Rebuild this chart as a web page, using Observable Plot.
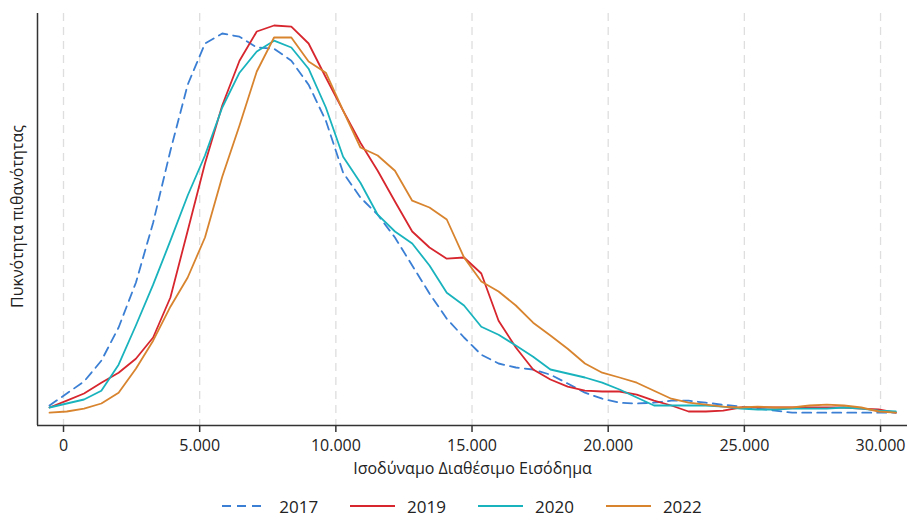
<!DOCTYPE html>
<html>
<head>
<meta charset="utf-8">
<script src="https://cdn.jsdelivr.net/npm/d3@7"></script>
<script src="https://cdn.jsdelivr.net/npm/@observablehq/plot@0.6"></script>
<style>
  html, body { margin: 0; padding: 0; background: #fff; }
  body { width: 908px; height: 522px; overflow: hidden; font-family: "Open Sans", sans-serif; }
  #legend { display: flex; justify-content: center; align-items: center; height: 32px; margin-left: 16px; font-size: 17px; color: #222; }
  .item { display: flex; align-items: center; margin: 0 16px; }
  .item svg { margin-right: 12px; }
</style>
</head>
<body>
<div id="chart"></div>
<div id="legend"></div>
<script>
// Grid of income values where the densities were evaluated
const incomes = [-514, 120, 754, 1389, 2023, 2657, 3291, 3925, 4560, 5194, 5828, 6462, 7096, 7731, 8365, 8999, 9633, 10267, 10902, 11536, 12170, 12804, 13438, 14073, 14707, 15341, 15975, 16609, 17244, 17878, 18512, 19146, 19780, 20415, 21049, 21683, 22317, 22951, 23586, 24220, 24854, 25488, 26122, 26757, 27391, 28025, 28659, 29293, 29928, 30562];

// Density (×1e-5) per year
const d2017 = [0.50, 0.80, 1.10, 1.62, 2.45, 3.57, 5.07, 6.87, 8.52, 9.55, 9.80, 9.72, 9.45, 9.42, 9.12, 8.52, 7.62, 6.32, 5.70, 5.27, 4.70, 4.00, 3.30, 2.67, 2.20, 1.77, 1.55, 1.45, 1.40, 1.27, 1.05, 0.82, 0.67, 0.57, 0.55, 0.57, 0.62, 0.62, 0.57, 0.52, 0.47, 0.42, 0.37, 0.32, 0.32, 0.32, 0.32, 0.32, 0.32, 0.32];
const d2019 = [0.45, 0.62, 0.80, 1.07, 1.32, 1.67, 2.20, 3.20, 4.87, 6.55, 8.00, 9.12, 9.85, 10.00, 9.97, 9.55, 8.70, 7.87, 7.07, 6.37, 5.60, 4.85, 4.45, 4.17, 4.20, 3.80, 2.62, 1.95, 1.40, 1.15, 0.97, 0.87, 0.85, 0.85, 0.77, 0.62, 0.50, 0.35, 0.35, 0.37, 0.45, 0.45, 0.45, 0.45, 0.45, 0.45, 0.45, 0.42, 0.40, 0.32];
const d2020 = [0.45, 0.55, 0.65, 0.87, 1.52, 2.50, 3.52, 4.62, 5.75, 6.75, 7.95, 8.82, 9.35, 9.62, 9.45, 8.92, 7.95, 6.72, 6.07, 5.27, 4.85, 4.55, 4.00, 3.32, 3.00, 2.47, 2.27, 2.00, 1.72, 1.40, 1.30, 1.20, 1.07, 0.90, 0.70, 0.50, 0.50, 0.50, 0.50, 0.47, 0.42, 0.40, 0.40, 0.42, 0.42, 0.42, 0.45, 0.42, 0.37, 0.35];
const d2022 = [0.32, 0.35, 0.42, 0.55, 0.82, 1.42, 2.12, 2.97, 3.70, 4.70, 6.22, 7.50, 8.85, 9.70, 9.70, 9.10, 8.82, 7.87, 6.95, 6.75, 6.37, 5.62, 5.45, 5.15, 4.20, 3.60, 3.35, 3.00, 2.57, 2.25, 1.92, 1.55, 1.32, 1.20, 1.07, 0.87, 0.67, 0.57, 0.52, 0.47, 0.45, 0.47, 0.45, 0.45, 0.50, 0.52, 0.50, 0.45, 0.35, 0.32];

const years = ["2017", "2019", "2020", "2022"];
const colors = ["#3b7fd4", "#d7262e", "#19b3bd", "#d8842f"];
const dashes = ["9,6", null, null, null];
const xTicks = [0, 5000, 10000, 15000, 20000, 25000, 30000];
const xLabel = "Ισοδύναμο Διαθέσιμο Εισόδημα";
const yLabel = "Πυκνότητα πιθανότητας";

const seriesValues = [d2017, d2019, d2020, d2022];
const rows = [];
years.forEach((yr, k) => seriesValues[k].forEach((v, i) => rows.push({year: yr, income: incomes[i], density: v})));

const fmt = d => d3.format(",")(d).replace(/,/g, ".");

const lineMarks = years.map((yr, k) => Plot.line(rows.filter(r => r.year === yr), {
  x: "income", y: "density", stroke: colors[k], strokeWidth: 1.8,
  strokeDasharray: dashes[k] || undefined, curve: "linear"
}));

const chart = Plot.plot({
  width: 908,
  height: 490,
  marginLeft: 37,
  marginRight: 1,
  marginTop: 13,
  marginBottom: 65,
  style: {fontFamily: "Open Sans, sans-serif", fontSize: "16px", color: "#222", background: "#fff"},
  x: {domain: [-955, 30990], label: null},
  y: {domain: [0, 10.3], axis: null},
  marks: [
    Plot.ruleX(xTicks, {stroke: "#dedede", strokeWidth: 1.3, strokeDasharray: "8,6"}),
    ...lineMarks,
    Plot.ruleX([-955], {stroke: "#333", strokeWidth: 1.5}),
    Plot.ruleY([0], {stroke: "#333", strokeWidth: 1.5}),
    Plot.axisX({ticks: xTicks, tickFormat: fmt, tickSize: 7, tickPadding: 7, stroke: "#333", strokeWidth: 1.5, fontSize: 16, label: null}),
    Plot.text([xLabel], {frameAnchor: "bottom", dy: 48, fontSize: 16, fill: "#222"}),
    Plot.text([yLabel], {frameAnchor: "left", dx: -20, dy: -3, rotate: -90, textAnchor: "middle", fontSize: 16, fill: "#222"})
  ]
});
document.getElementById("chart").appendChild(chart);

const legend = document.getElementById("legend");
years.forEach((yr, k) => {
  const item = document.createElement("div");
  item.className = "item";
  item.innerHTML = `<svg width="45" height="6"><line x1="0" x2="45" y1="3" y2="3" stroke="${colors[k]}" stroke-width="2" ${dashes[k] ? `stroke-dasharray="${dashes[k]}"` : ""}/></svg><span>${yr}</span>`;
  legend.appendChild(item);
});
</script>
</body>
</html>
